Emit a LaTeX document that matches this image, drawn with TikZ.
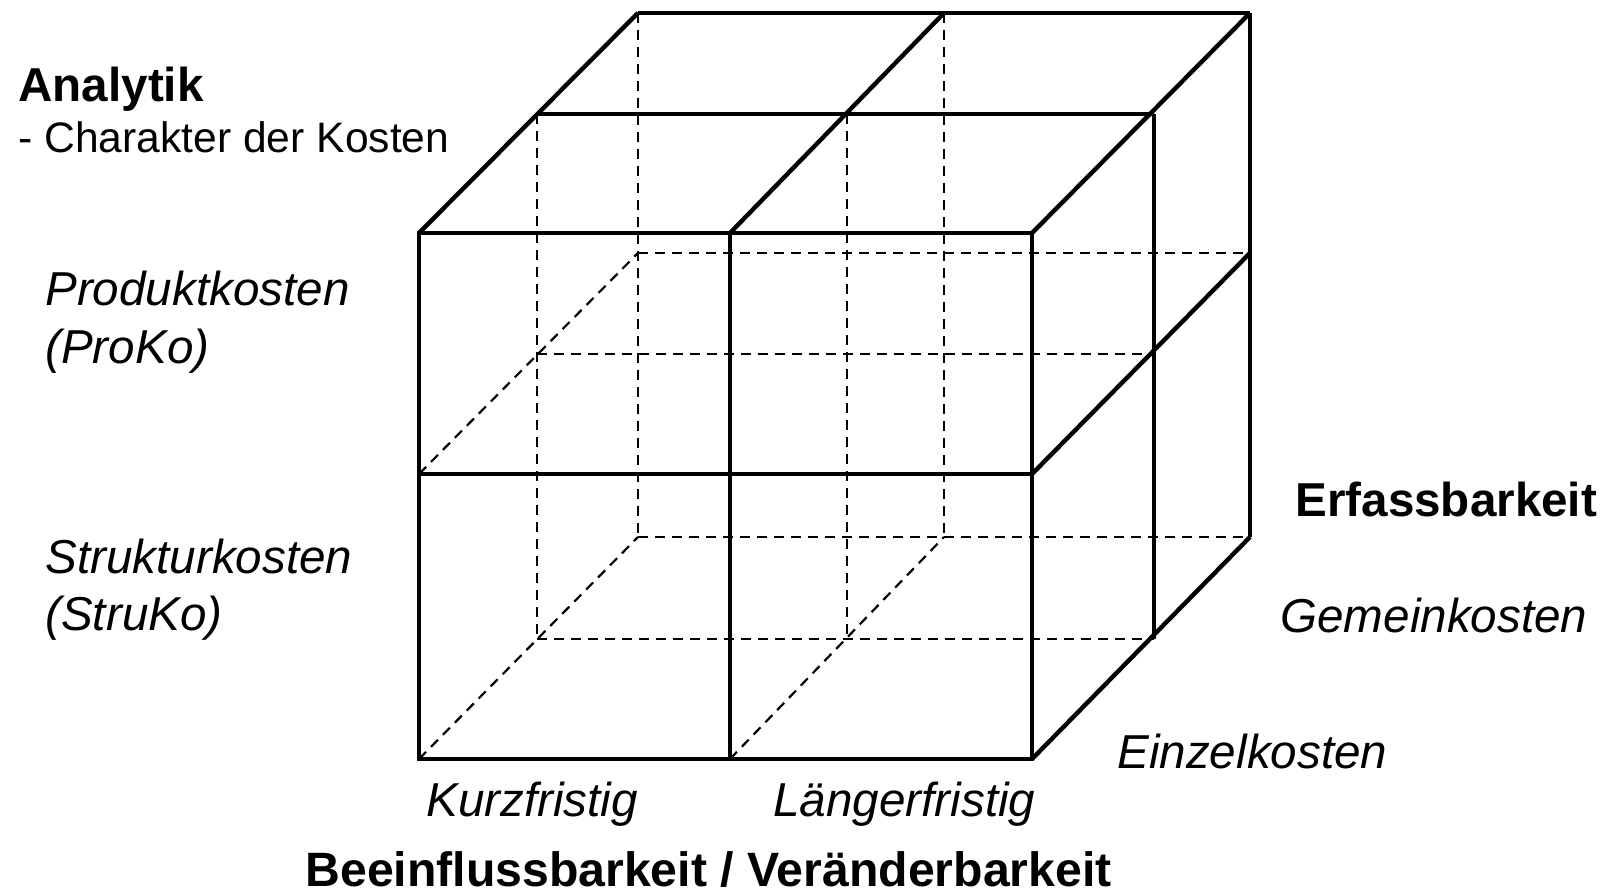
\documentclass[tikz,border=0pt]{standalone}
\usepackage{fontspec}
\setmainfont{Liberation Sans}
\begin{document}
\begin{tikzpicture}[x=0.5pt,y=-0.5pt,
  edge/.style={line width=2.2pt,line join=miter,line cap=butt},
  hidden/.style={line width=1.1pt,dash pattern=on 5pt off 3.5pt},
  lbl/.style={inner sep=0pt,anchor=base west,font=\fontsize{23.8}{28}\selectfont},
  ital/.style={lbl,font=\fontsize{23.8}{28}\selectfont\itshape},
  bold/.style={lbl,font=\fontsize{23.8}{28}\selectfont\bfseries}]
\useasboundingbox (0,0) rectangle (1605,893);
% front layer
\coordinate (F00) at (419,233); \coordinate (F10) at (730,233); \coordinate (F20) at (1032,233);
\coordinate (F01) at (419,474); \coordinate (F11) at (730,474); \coordinate (F21) at (1032,474);
\coordinate (F02) at (419,759); \coordinate (F12) at (730,759); \coordinate (F22) at (1032,759);
% middle layer
\coordinate (M00) at (537,114); \coordinate (M10) at (847,114); \coordinate (M20) at (1154,114);
\coordinate (M01) at (537,354); \coordinate (M11) at (847,354); \coordinate (M21) at (1154,354);
\coordinate (M02) at (537,639); \coordinate (M12) at (847,639); \coordinate (M22) at (1154,639);
% back layer
\coordinate (B00) at (638,13); \coordinate (B10) at (944,13); \coordinate (B20) at (1250,13);
\coordinate (B01) at (638,253); \coordinate (B11) at (944,253); \coordinate (B21) at (1250,253);
\coordinate (B02) at (638,537); \coordinate (B12) at (944,537); \coordinate (B22) at (1250,537);
% hidden edges
\draw[hidden] (M00) -- (M02);
\draw[hidden] (M10) -- (M12);
\draw[hidden] (B00) -- (B02);
\draw[hidden] (B10) -- (B12);
\draw[hidden] (M01) -- (M21);
\draw[hidden] (M02) -- (M22);
\draw[hidden] (B01) -- (B21);
\draw[hidden] (B02) -- (B22);
\draw[hidden] (F01) -- (B01);
\draw[hidden] (F02) -- (B02);
\draw[hidden] (F12) -- (B12);
% visible edges
\draw[edge] (F00) -- (F20) -- (F22) -- (F02) -- cycle;
\draw[edge] (F10) -- (F12);
\draw[edge] (F01) -- (F21);
\draw[edge] (M00) -- (M20);
\draw[edge] (B00) -- (B20);
\draw[edge] (F00) -- (B00);
\draw[edge] (F10) -- (B10);
\draw[edge] (F20) -- (B20);
\draw[edge] (M20) -- (M22);
\draw[edge] (B20) -- (B22);
\draw[edge] (F21) -- (B21);
\draw[edge] (F22) -- (B22);
% labels
\node[bold] (analytik) at (18,102) {Analytik};
\node[lbl,font=\fontsize{21.3}{25}\selectfont] (charakter) at (18,153) {- Charakter der Kosten};
\node[ital] (proko1) at (45,306) {Produktkosten};
\node[ital] (proko2) at (45,363) {(ProKo)};
\node[ital] (struko1) at (45,573) {Strukturkosten};
\node[ital] (struko2) at (45,630) {(StruKo)};
\node[bold] (erfass) at (1295,516) {Erfassbarkeit};
\node[ital] (gemein) at (1280,632) {Gemeinkosten};
\node[ital] (einzel) at (1117,768) {Einzelkosten};
\node[ital] (kurz) at (426,816) {Kurzfristig};
\node[ital] (lang) at (773,816) {Längerfristig};
\node[bold,font=\fontsize{24.1}{28}\selectfont\bfseries] (beein) at (305,886) {Beeinflussbarkeit / Veränderbarkeit};
\end{tikzpicture}
\end{document}
